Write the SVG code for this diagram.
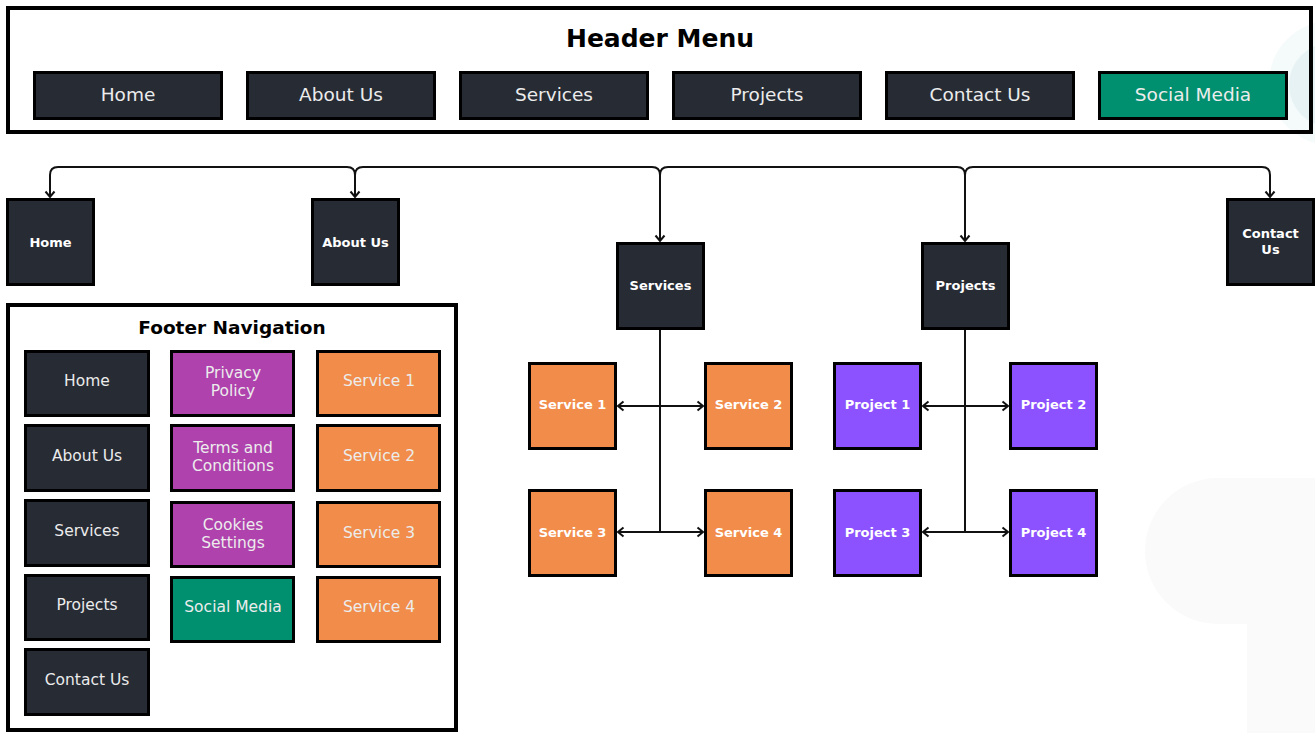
<svg xmlns="http://www.w3.org/2000/svg" width="1315" height="733" viewBox="0 0 1315 733">
  <style>
    .frame { fill: none; stroke: #000; stroke-width: 4; }
    .btn { stroke: #000; stroke-width: 3; }
    .dark { fill: #272b34; }
    .green { fill: #00906f; }
    .purple { fill: #af42ad; }
    .orange { fill: #f18c4a; }
    .violet { fill: #8c52ff; }
    .title { font-family: "DejaVu Sans", "Liberation Sans", sans-serif; font-weight: bold; fill: #000; text-anchor: middle; }
    .lbl { font-family: "DejaVu Sans", "Liberation Sans", sans-serif; fill: #ececec; text-anchor: middle; }
    .nlbl { font-family: "DejaVu Sans", "Liberation Sans", sans-serif; font-weight: bold; font-size: 13px; fill: #ffffff; text-anchor: middle; }
    .wire { fill: none; stroke: #111; stroke-width: 2; }
  </style>
  <defs>
    <marker id="chev" viewBox="-8 -7 10 14" refX="0" refY="0" markerWidth="10" markerHeight="14" markerUnits="userSpaceOnUse" orient="auto-start-reverse">
      <path d="M-5.5,-4.5 L0,0 L-5.5,4.5" fill="none" stroke="#111" stroke-width="2"/>
    </marker>
  </defs>

  <rect width="1315" height="733" fill="#ffffff"/>

  <!-- faint decorative background shapes -->
  <circle cx="1331" cy="83" r="62" fill="#f5fafa"/>
  <circle cx="1331" cy="85" r="42" fill="#e6f2f3"/>
  <path d="M1218,478 H1315 V733 H1247 V624 H1218 A73,73 0 0 1 1218,478 Z" fill="#fafafa"/>

  <!-- header menu -->
  <g id="header-menu">
    <rect class="frame" x="8" y="8" width="1303" height="124"/>
    <text class="title" x="660" y="47" font-size="25">Header Menu</text>
    <g id="hdr-home"><rect class="btn dark" x="34.5" y="72.5" width="187" height="46"/><text class="lbl" x="128" y="101" font-size="18.5">Home</text></g>
    <g id="hdr-about"><rect class="btn dark" x="247.5" y="72.5" width="187" height="46"/><text class="lbl" x="341" y="101" font-size="18.5">About Us</text></g>
    <g id="hdr-services"><rect class="btn dark" x="460.5" y="72.5" width="187" height="46"/><text class="lbl" x="554" y="101" font-size="18.5">Services</text></g>
    <g id="hdr-projects"><rect class="btn dark" x="673.5" y="72.5" width="187" height="46"/><text class="lbl" x="767" y="101" font-size="18.5">Projects</text></g>
    <g id="hdr-contact"><rect class="btn dark" x="886.5" y="72.5" width="187" height="46"/><text class="lbl" x="980" y="101" font-size="18.5">Contact Us</text></g>
    <g id="hdr-social"><rect class="btn green" x="1099.5" y="72.5" width="187" height="46"/><text class="lbl" x="1193" y="101" font-size="18.5">Social Media</text></g>
  </g>

  <!-- connectors -->
  <g id="connectors">
    <path class="wire" d="M58,167 H347 Q355,167 355,175 Q355,167 363,167 H652 Q660,167 660,175 Q660,167 668,167 H957 Q965,167 965,175 Q965,167 973,167 H1262"/>
    <path class="wire" d="M58,167 Q50,167 50,175 V197" marker-end="url(#chev)"/>
    <path class="wire" d="M1262,167 Q1270,167 1270,175 V197" marker-end="url(#chev)"/>
    <path class="wire" d="M355,175 V197" marker-end="url(#chev)"/>
    <path class="wire" d="M660,175 V241" marker-end="url(#chev)"/>
    <path class="wire" d="M965,175 V241" marker-end="url(#chev)"/>
    <!-- services branch -->
    <path class="wire" d="M660,330 V533"/>
    <path class="wire" d="M618,406 H703" marker-start="url(#chev)" marker-end="url(#chev)"/>
    <path class="wire" d="M618,532 H703" marker-start="url(#chev)" marker-end="url(#chev)"/>
    <!-- projects branch -->
    <path class="wire" d="M965,330 V533"/>
    <path class="wire" d="M923,406 H1008" marker-start="url(#chev)" marker-end="url(#chev)"/>
    <path class="wire" d="M923,532 H1008" marker-start="url(#chev)" marker-end="url(#chev)"/>
  </g>

  <!-- site map nodes -->
  <g id="node-home"><rect class="btn dark" x="7.5" y="199.5" width="86" height="85"/><text class="nlbl" x="50.5" y="246.5">Home</text></g>
  <g id="node-about"><rect class="btn dark" x="312.5" y="199.5" width="86" height="85"/><text class="nlbl" x="355.5" y="246.5">About Us</text></g>
  <g id="node-services"><rect class="btn dark" x="617.5" y="243.5" width="86" height="85"/><text class="nlbl" x="660.5" y="290">Services</text></g>
  <g id="node-projects"><rect class="btn dark" x="922.5" y="243.5" width="86" height="85"/><text class="nlbl" x="965.5" y="290">Projects</text></g>
  <g id="node-contact"><rect class="btn dark" x="1227.5" y="199.5" width="86" height="85"/><text class="nlbl" x="1270.5" y="238">Contact</text><text class="nlbl" x="1270.5" y="254">Us</text></g>

  <g id="node-service1"><rect class="btn orange" x="529.5" y="363.5" width="86" height="85"/><text class="nlbl" x="572.5" y="409">Service 1</text></g>
  <g id="node-service2"><rect class="btn orange" x="705.5" y="363.5" width="86" height="85"/><text class="nlbl" x="748.5" y="409">Service 2</text></g>
  <g id="node-service3"><rect class="btn orange" x="529.5" y="490.5" width="86" height="85"/><text class="nlbl" x="572.5" y="537">Service 3</text></g>
  <g id="node-service4"><rect class="btn orange" x="705.5" y="490.5" width="86" height="85"/><text class="nlbl" x="748.5" y="537">Service 4</text></g>

  <g id="node-project1"><rect class="btn violet" x="834.5" y="363.5" width="86" height="85"/><text class="nlbl" x="877.5" y="409">Project 1</text></g>
  <g id="node-project2"><rect class="btn violet" x="1010.5" y="363.5" width="86" height="85"/><text class="nlbl" x="1053.5" y="409">Project 2</text></g>
  <g id="node-project3"><rect class="btn violet" x="834.5" y="490.5" width="86" height="85"/><text class="nlbl" x="877.5" y="537">Project 3</text></g>
  <g id="node-project4"><rect class="btn violet" x="1010.5" y="490.5" width="86" height="85"/><text class="nlbl" x="1053.5" y="537">Project 4</text></g>

  <!-- footer navigation -->
  <g id="footer-navigation">
    <rect class="frame" x="8" y="305" width="448" height="425"/>
    <text class="title" x="232" y="334" font-size="18.5">Footer Navigation</text>

    <g id="ft-home"><rect class="btn dark" x="25.5" y="351.5" width="123" height="64"/><text class="lbl" x="87" y="386" font-size="15.5">Home</text></g>
    <g id="ft-about"><rect class="btn dark" x="25.5" y="425.5" width="123" height="65"/><text class="lbl" x="87" y="461" font-size="15.5">About Us</text></g>
    <g id="ft-services"><rect class="btn dark" x="25.5" y="500.5" width="123" height="65"/><text class="lbl" x="87" y="536" font-size="15.5">Services</text></g>
    <g id="ft-projects"><rect class="btn dark" x="25.5" y="575.5" width="123" height="64"/><text class="lbl" x="87" y="610" font-size="15.5">Projects</text></g>
    <g id="ft-contact"><rect class="btn dark" x="25.5" y="649.5" width="123" height="65"/><text class="lbl" x="87" y="685" font-size="15.5">Contact Us</text></g>

    <g id="ft-privacy"><rect class="btn purple" x="171.5" y="351.5" width="122" height="64"/><text class="lbl" x="233" y="378" font-size="15.5">Privacy</text><text class="lbl" x="233" y="396" font-size="15.5">Policy</text></g>
    <g id="ft-terms"><rect class="btn purple" x="171.5" y="425.5" width="122" height="65"/><text class="lbl" x="233" y="453" font-size="15.5">Terms and</text><text class="lbl" x="233" y="471" font-size="15.5">Conditions</text></g>
    <g id="ft-cookies"><rect class="btn purple" x="171.5" y="502.5" width="122" height="64"/><text class="lbl" x="233" y="530" font-size="15.5">Cookies</text><text class="lbl" x="233" y="548" font-size="15.5">Settings</text></g>
    <g id="ft-social"><rect class="btn green" x="171.5" y="577.5" width="122" height="64"/><text class="lbl" x="233" y="612" font-size="15.5">Social Media</text></g>

    <g id="ft-service1"><rect class="btn orange" x="317.5" y="351.5" width="122" height="64"/><text class="lbl" x="379" y="386" font-size="15.5">Service 1</text></g>
    <g id="ft-service2"><rect class="btn orange" x="317.5" y="425.5" width="122" height="65"/><text class="lbl" x="379" y="461" font-size="15.5">Service 2</text></g>
    <g id="ft-service3"><rect class="btn orange" x="317.5" y="502.5" width="122" height="64"/><text class="lbl" x="379" y="538" font-size="15.5">Service 3</text></g>
    <g id="ft-service4"><rect class="btn orange" x="317.5" y="577.5" width="122" height="64"/><text class="lbl" x="379" y="612" font-size="15.5">Service 4</text></g>
  </g>
</svg>
